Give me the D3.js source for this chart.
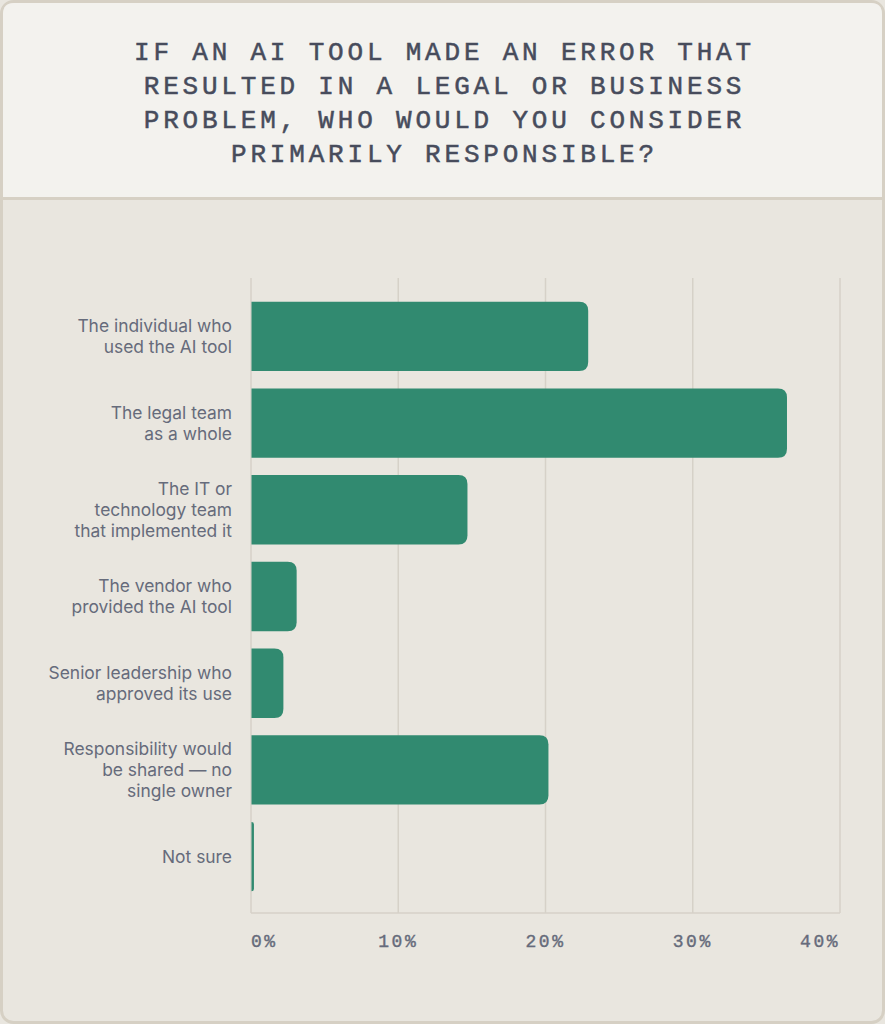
<!DOCTYPE html>
<html>
<head>
<meta charset="utf-8">
<script src="https://cdn.jsdelivr.net/npm/d3@7"></script>
<style>
  html, body { margin: 0; padding: 0; background: #e9e6df; }
  svg { display: block; }
</style>
</head>
<body>
<svg id="chart" width="885" height="1024"></svg>
<script>
// chart data
const titleLines = [
  'IF AN AI TOOL MADE AN ERROR THAT',
  'RESULTED IN A LEGAL OR BUSINESS',
  'PROBLEM, WHO WOULD YOU CONSIDER',
  'PRIMARILY RESPONSIBLE?'
];
const categories = [
  ['The individual who', 'used the AI tool'],
  ['The legal team', 'as a whole'],
  ['The IT or', 'technology team', 'that implemented it'],
  ['The vendor who', 'provided the AI tool'],
  ['Senior leadership who', 'approved its use'],
  ['Responsibility would', 'be shared \u2014 no', 'single owner'],
  ['Not sure']
];
const values = [22.9, 36.4, 14.7, 3.1, 2.2, 20.2, 0.2];
const ticks = [0, 10, 20, 30, 40];

const W = 885, H = 1024;
const svg = d3.select('#chart');

// frame + header
svg.append('rect')
  .attr('x', 1.5).attr('y', 1.5)
  .attr('width', W - 3).attr('height', H - 3)
  .attr('rx', 12)
  .attr('fill', '#e9e6df')
  .attr('stroke', '#d6d0c4')
  .attr('stroke-width', 3);

svg.append('path')
  .attr('d', `M3,198 L3,14 Q3,3 14,3 L${W - 14},3 Q${W - 3},3 ${W - 3},14 L${W - 3},198 Z`)
  .attr('fill', '#f3f2ee');

svg.append('line')
  .attr('x1', 3).attr('x2', W - 3)
  .attr('y1', 198.5).attr('y2', 198.5)
  .attr('stroke', '#d6d0c4')
  .attr('stroke-width', 3);

svg.append('g')
  .selectAll('text')
  .data(titleLines)
  .enter().append('text')
  .attr('x', W / 2 + 2)
  .attr('y', (d, i) => 60 + i * 34)
  .attr('text-anchor', 'middle')
  .attr('fill', '#474c5c')
  .attr('stroke', '#474c5c')
  .attr('stroke-width', 0.5)
  .style('font-family', '"Liberation Mono", "DejaVu Sans Mono", monospace')
  .style('font-size', '26px')
  .style('letter-spacing', '3.8px')
  .text(d => d);

// scales
const x = d3.scaleLinear().domain([0, 40]).range([251, 840]);
const y = d3.scaleBand()
  .domain(d3.range(categories.length))
  .range([280, 913])
  .paddingInner(0.2)
  .paddingOuter(0.25);

// grid
svg.append('g')
  .selectAll('line')
  .data(ticks)
  .enter().append('line')
  .attr('x1', d => x(d)).attr('x2', d => x(d))
  .attr('y1', 278).attr('y2', 913)
  .attr('stroke', '#d6d1c8')
  .attr('stroke-width', 1.5);

svg.append('line')
  .attr('x1', x(0)).attr('x2', x(40))
  .attr('y1', 913).attr('y2', 913)
  .attr('stroke', '#d6d1c8')
  .attr('stroke-width', 1.5);

// bars, square left end, rounded right end
const r = 9;
svg.append('g')
  .selectAll('path')
  .data(values)
  .enter().append('path')
  .attr('fill', '#318a70')
  .attr('d', (d, i) => {
    const x0 = x(0) + 0.5, x1 = Math.max(x(d), x0 + 1.5);
    const y0 = y(i), h = y.bandwidth();
    const rr = Math.min(r, (x1 - x0));
    return `M${x0},${y0} L${x1 - rr},${y0} Q${x1},${y0} ${x1},${y0 + rr}` +
      ` L${x1},${y0 + h - rr} Q${x1},${y0 + h} ${x1 - rr},${y0 + h} L${x0},${y0 + h} Z`;
  });

// category labels
const lineH = 21;
const labels = svg.append('g')
  .selectAll('text')
  .data(categories)
  .enter().append('text')
  .attr('text-anchor', 'end')
  .attr('fill', '#666b7b')
  .style('font-family', 'Inter, "Noto Sans", sans-serif')
  .style('font-size', '17.4px');

labels.each(function (d, i) {
  const cy = y(i) + y.bandwidth() / 2;
  const top = cy - (d.length - 1) * lineH / 2 + 6;
  d3.select(this).selectAll('tspan')
    .data(d)
    .enter().append('tspan')
    .attr('x', 232)
    .attr('y', (t, j) => top + j * lineH)
    .text(t => t);
});

// x tick labels
svg.append('g')
  .selectAll('text')
  .data(ticks)
  .enter().append('text')
  .attr('x', d => x(d))
  .attr('y', 947)
  .attr('text-anchor', (d, i) => i === 0 ? 'start' : (i === ticks.length - 1 ? 'end' : 'middle'))
  .attr('fill', '#666b7b')
  .attr('stroke', '#666b7b')
  .attr('stroke-width', 0.4)
  .style('font-family', '"Liberation Mono", "DejaVu Sans Mono", monospace')
  .style('font-size', '18px')
  .style('letter-spacing', '2.5px')
  .text(d => d + '%');
</script>
</body>
</html>
